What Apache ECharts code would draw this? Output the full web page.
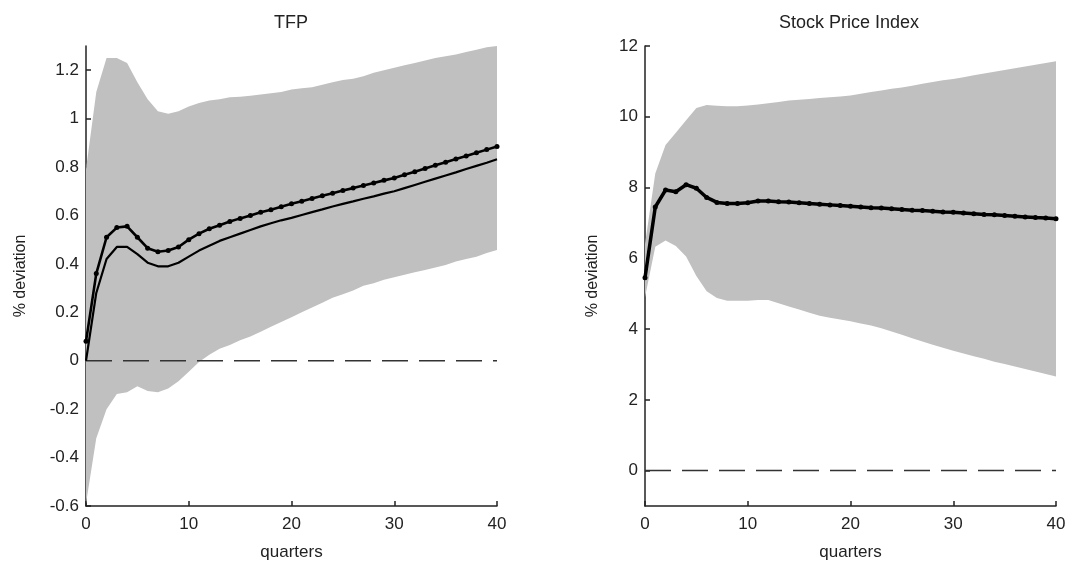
<!DOCTYPE html>
<html>
<head>
<meta charset="utf-8">
<script src="https://cdn.jsdelivr.net/npm/echarts@6/dist/echarts.min.js"></script>
<style>
  html, body { margin: 0; padding: 0; background: #fff; }
  #chart { width: 1087px; height: 563px; }
</style>
</head>
<body>
<div id="chart"></div>
<script>
// quarters 0..40
var quarters = [0,1,2,3,4,5,6,7,8,9,10,11,12,13,14,15,16,17,18,19,20,21,22,23,24,25,26,27,28,29,30,31,32,33,34,35,36,37,38,39,40];

// TFP panel
var tfpBandLo = [-0.59,-0.32,-0.2,-0.137,-0.13,-0.105,-0.125,-0.13,-0.115,-0.085,-0.045,-0.005,0.025,0.05,0.065,0.085,0.1,0.12,0.14,0.16,0.18,0.2,0.22,0.24,0.26,0.275,0.29,0.31,0.32,0.335,0.345,0.355,0.365,0.375,0.385,0.395,0.41,0.42,0.43,0.445,0.457];
var tfpBandHi = [0.79,1.11,1.25,1.25,1.23,1.15,1.08,1.03,1.02,1.03,1.05,1.065,1.075,1.08,1.088,1.09,1.095,1.1,1.105,1.11,1.12,1.125,1.13,1.14,1.15,1.16,1.165,1.175,1.19,1.2,1.21,1.22,1.23,1.24,1.25,1.258,1.265,1.275,1.285,1.295,1.3];
var tfpMarked = [0.08,0.36,0.51,0.55,0.555,0.51,0.465,0.45,0.455,0.47,0.5,0.525,0.545,0.56,0.575,0.588,0.6,0.613,0.624,0.636,0.648,0.659,0.67,0.681,0.692,0.703,0.713,0.724,0.734,0.745,0.755,0.768,0.781,0.794,0.807,0.82,0.833,0.846,0.859,0.872,0.885];
var tfpPlain = [0,0.28,0.42,0.47,0.47,0.44,0.405,0.39,0.39,0.405,0.43,0.455,0.475,0.495,0.51,0.525,0.54,0.555,0.568,0.58,0.59,0.602,0.614,0.625,0.637,0.648,0.658,0.669,0.679,0.69,0.7,0.713,0.726,0.739,0.752,0.765,0.778,0.792,0.805,0.818,0.832];
var tfpTicks = [-0.6,-0.4,-0.2,0,0.2,0.4,0.6,0.8,1,1.2];

// Stock price panel
var spiBandLo = [4.9,6.33,6.5,6.35,6.05,5.5,5.07,4.88,4.8,4.8,4.8,4.82,4.82,4.73,4.64,4.55,4.46,4.38,4.32,4.27,4.22,4.16,4.1,4.02,3.93,3.84,3.74,3.65,3.56,3.47,3.39,3.31,3.23,3.16,3.08,3.01,2.94,2.87,2.8,2.73,2.66];
var spiBandHi = [6.4,8.4,9.2,9.55,9.9,10.25,10.33,10.31,10.3,10.3,10.32,10.35,10.38,10.42,10.46,10.48,10.5,10.53,10.55,10.57,10.6,10.65,10.7,10.74,10.79,10.83,10.88,10.93,10.98,11.03,11.07,11.12,11.17,11.22,11.27,11.32,11.37,11.42,11.47,11.52,11.57];
var spiLine = [5.45,7.45,7.93,7.88,8.08,7.98,7.72,7.58,7.55,7.55,7.57,7.62,7.62,7.6,7.59,7.57,7.55,7.53,7.51,7.49,7.47,7.45,7.43,7.42,7.4,7.38,7.36,7.35,7.33,7.31,7.3,7.28,7.26,7.24,7.23,7.21,7.19,7.17,7.15,7.14,7.12];
var spiTicks = [0,2,4,6,8,10,12];

var zeroX = [0, 40];

function pairs(ys){
  return quarters.map(function(q, i){ return [q, ys[i]]; });
}

var font = 'Liberation Sans, Arial, sans-serif';
var ink = '#222';
var band = '#c0c0c0';

function xAx(idx){
  return {
    type: 'value', gridIndex: idx, min: 0, max: 40, interval: 10,
    name: 'quarters', nameLocation: 'middle', nameGap: 38,
    nameTextStyle: { fontFamily: font, fontSize: 17, color: ink },
    axisLine: { show: true, onZero: false, lineStyle: { color: ink, width: 1.5 } },
    axisTick: { show: true, inside: true, length: 5, lineStyle: { color: ink, width: 1.5 } },
    axisLabel: { fontFamily: font, fontSize: 17, color: ink, margin: 10 },
    splitLine: { show: false }
  };
}
function yAx(idx, min, max, ticks, gap){
  return {
    type: 'value', gridIndex: idx, min: min, max: max,
    name: '% deviation', nameLocation: 'middle', nameGap: gap,
    nameTextStyle: { fontFamily: font, fontSize: 16, color: ink },
    axisLine: { show: true, onZero: false, lineStyle: { color: ink, width: 1.5 } },
    axisTick: { show: true, inside: true, length: 5, customValues: ticks, lineStyle: { color: ink, width: 1.5 } },
    axisLabel: { fontFamily: font, fontSize: 17, color: ink, margin: 7, customValues: ticks },
    splitLine: { show: false }
  };
}

// confidence band as one polygon, hi edge forward then lo edge back
function bandSeries(idx, lo, hi){
  return {
    type: 'custom', xAxisIndex: idx, yAxisIndex: idx, silent: true, z: 1,
    data: quarters.map(function(q, i){ return [q, lo[i], hi[i]]; }),
    encode: { x: 0, y: [1, 2] },
    renderItem: function(params, api){
      if (params.dataIndex !== 0) return null;
      var pts = [];
      for (var i = 0; i < quarters.length; i++) pts.push(api.coord([quarters[i], hi[i]]));
      for (var j = quarters.length - 1; j >= 0; j--) pts.push(api.coord([quarters[j], lo[j]]));
      return { type: 'polygon', shape: { points: pts }, style: { fill: band, stroke: null } };
    }
  };
}
function zeroSeries(idx){
  return {
    type: 'line', xAxisIndex: idx, yAxisIndex: idx,
    data: zeroX.map(function(x){ return [x, 0]; }), symbol: 'none',
    lineStyle: { color: '#333', width: 1.5, type: [26, 11] }, z: 3
  };
}

var chart = echarts.init(document.getElementById('chart'), null, { renderer: 'canvas' });
chart.setOption({
  animation: false,
  backgroundColor: '#fff',
  title: [
    { text: 'TFP', left: 291, top: 14, padding: 0, textAlign: 'center',
      textStyle: { fontFamily: font, fontSize: 18, fontWeight: 'normal', color: ink } },
    { text: 'Stock Price Index', left: 849, top: 14, padding: 0, textAlign: 'center',
      textStyle: { fontFamily: font, fontSize: 18, fontWeight: 'normal', color: ink } }
  ],
  grid: [
    { left: 86, top: 46, width: 411, height: 460, outerBoundsMode: 'none', containLabel: false },
    { left: 645, top: 46, width: 411, height: 460, outerBoundsMode: 'none', containLabel: false }
  ],
  xAxis: [xAx(0), xAx(1)],
  yAxis: [yAx(0, -0.6, 1.3, tfpTicks, 57), yAx(1, -1, 12, spiTicks, 44)],
  series: [
    bandSeries(0, tfpBandLo, tfpBandHi),
    zeroSeries(0),
    { type: 'line', xAxisIndex: 0, yAxisIndex: 0, data: pairs(tfpPlain), symbol: 'none',
      lineStyle: { color: '#000', width: 2.2 }, z: 4 },
    { type: 'line', xAxisIndex: 0, yAxisIndex: 0, data: pairs(tfpMarked), symbol: 'circle', symbolSize: 5,
      itemStyle: { color: '#000' }, lineStyle: { color: '#000', width: 2.6 }, z: 5 },
    bandSeries(1, spiBandLo, spiBandHi),
    zeroSeries(1),
    { type: 'line', xAxisIndex: 1, yAxisIndex: 1, data: pairs(spiLine), symbol: 'circle', symbolSize: 5,
      itemStyle: { color: '#000' }, lineStyle: { color: '#000', width: 3.5 }, z: 5 }
  ]
});
</script>
</body>
</html>
